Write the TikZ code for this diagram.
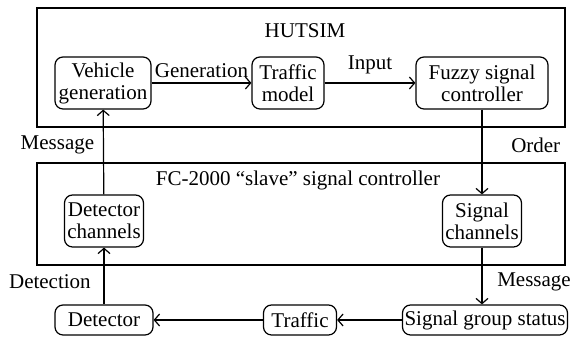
\documentclass[tikz,border=0pt]{standalone}
\usepackage{fontspec}
\setmainfont{Liberation Serif}
\usetikzlibrary{arrows.meta,positioning}

\begin{document}
\begin{tikzpicture}[x=0.5pt, y=-0.5pt, font=\fontsize{10.5}{11}\selectfont,
    >={Straight Barb[length=2.6pt,width=6pt]},
    blk/.style={draw, rounded corners=4pt, align=center, inner sep=1pt, line width=0.6pt, minimum height=26pt},
    flat/.style={blk, minimum height=15pt},
    frame/.style={draw, line width=0.8pt},
    conn/.style={->, line width=0.6pt}]

\useasboundingbox (0,0) rectangle (580,340);

% ==== HUTSIM ====
\draw[frame] (37,8) rectangle (565,127);
\node (hutsim) at (305,31) {HUTSIM};

\node[blk, minimum width=48pt] (vehgen) at (103,83) {Vehicle\\generation};
\node[blk, minimum width=36pt] (trafmod) at (288,83) {Traffic\\model};
\node[blk, minimum width=66pt] (fuzzy) at (482,83) {Fuzzy signal\\controller};

% ==== FC-2000 ====
\draw[frame] (37,163) rectangle (565,265);
\node (fc) at (298,180) {FC-2000 “slave” signal controller};

\node[blk, minimum width=39.5pt] (detch) at (104,221) {Detector\\channels};
\node[blk, minimum width=39.5pt] (sigch) at (482,221) {Signal\\channels};

% ==== Outside ====
\node[flat, minimum width=49pt] (det) at (104,320) {Detector};
\node[flat, minimum width=36.5pt] (traffic) at (300,320) {Traffic};
\node[flat, minimum width=81.5pt] (sgs) at (485,320) {Signal group status};

% Connectors
\draw[conn] (vehgen) -- node[above=-1pt] {Generation} (trafmod);
\draw[conn] (trafmod) -- node[above=1pt] {Input} (fuzzy);
\draw[conn] (fuzzy) -- node[pos=0.42, right=11pt] {Order} (sigch);
\draw[conn] (sigch) -- node[pos=0.6, right=4pt] {Message} (sigch |- sgs.north);
\draw[conn] (sgs) -- (traffic);
\draw[conn] (traffic) -- (det);
\draw[conn] (det) -- node[pos=0.4, left=3pt] {Detection} (detch);
\draw[conn] (detch) -- node[pos=0.58, left=1pt] {Message} (vehgen);

\end{tikzpicture}
\end{document}
